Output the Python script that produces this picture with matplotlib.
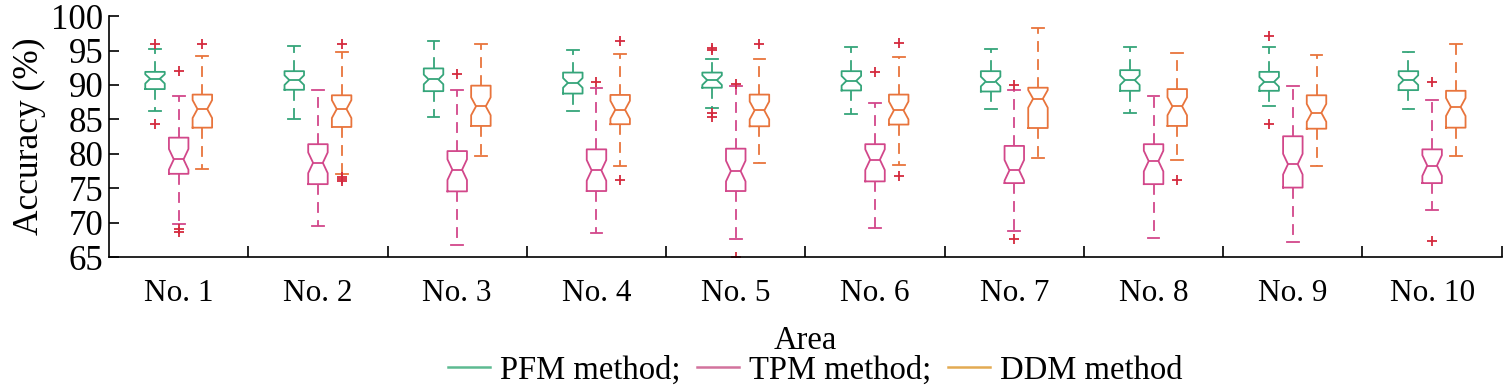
import matplotlib
matplotlib.use("Agg")
import matplotlib.pyplot as plt
from matplotlib.lines import Line2D

plt.rcParams['font.family'] = ['Liberation Serif', 'DejaVu Serif']

areas = ["No. 1", "No. 2", "No. 3", "No. 4", "No. 5", "No. 6", "No. 7", "No. 8", "No. 9", "No. 10"]
methods = ["PFM method;", "TPM method;", "DDM method"]

# each entry: (whislo, q1, med, q3, whishi, fliers)
pfm = [
    (86.2, 89.4, 90.9, 91.9, 95.15, [95.9, 84.4]),
    (85.1, 89.3, 90.7, 92.0, 95.7, []),
    (85.4, 89.1, 90.8, 92.4, 96.4, []),
    (86.2, 88.75, 90.3, 91.8, 95.05, []),
    (86.7, 89.6, 90.7, 91.8, 93.8, [95.4, 95.05, 86.0, 85.3]),
    (85.85, 89.2, 90.6, 92.0, 95.5, []),
    (86.5, 89.05, 90.5, 92.0, 95.15, []),
    (85.9, 89.15, 90.7, 92.15, 95.45, []),
    (86.9, 89.15, 90.45, 91.9, 95.45, [97.1, 84.3]),
    (86.5, 89.25, 90.7, 92.0, 94.75, []),
]
tpm = [
    (69.85, 77.1, 79.2, 82.35, 88.4, [92.0, 69.1, 68.6]),
    (69.5, 75.6, 78.7, 81.4, 89.2, []),
    (66.8, 74.55, 77.7, 80.4, 89.3, [91.6]),
    (68.55, 74.6, 77.6, 80.65, 89.5, [90.45]),
    (67.6, 74.6, 77.5, 80.75, 89.8, [90.1, 65.0]),
    (69.3, 76.0, 79.15, 81.4, 87.45, [91.95]),
    (68.8, 75.75, 77.6, 81.15, 89.2, [90.0, 67.6]),
    (67.8, 75.6, 78.95, 81.4, 88.4, []),
    (67.2, 75.1, 78.5, 82.55, 89.9, []),
    (71.8, 75.75, 78.3, 80.65, 87.8, [90.5, 67.4]),
]
ddm = [
    (77.85, 83.8, 86.5, 88.6, 94.2, [96.0]),
    (77.0, 83.9, 86.5, 88.5, 94.8, [95.9, 76.7, 76.4, 76.0]),
    (79.7, 84.05, 86.9, 89.9, 96.0, []),
    (78.2, 84.3, 86.4, 88.55, 94.5, [96.4, 76.25]),
    (78.6, 84.0, 86.3, 88.6, 93.75, [96.0]),
    (78.4, 84.25, 86.3, 88.6, 94.0, [96.1, 76.8]),
    (79.4, 83.75, 88.0, 89.6, 98.2, []),
    (79.05, 84.05, 86.9, 89.4, 94.7, [76.15]),
    (78.2, 83.65, 85.95, 88.5, 94.3, []),
    (79.7, 83.8, 86.8, 89.15, 96.0, []),
]
notch_ci = [0.7, 1.5, 1.3]

box_colors = ["#35a57a", "#d2478a", "#e8743c"]
legend_colors = ["#5dba91", "#d2739d", "#e3aa52"]
flier_color = "#d42a3e"

fig = plt.figure(figsize=(15.04, 3.92), dpi=100)
ax = fig.add_axes([0.0725, 0.344, 0.926, 0.615])

offsets = [-0.17, 0.0, 0.17]
for k, series in enumerate([pfm, tpm, ddm]):
    stats = []
    for (lo, q1, med, q3, hi, fl) in series:
        ci = notch_ci[k]
        cilo = max(med - ci, q1 + 0.35)
        cihi = min(med + ci, q3 - 0.35)
        stats.append(dict(whislo=lo, q1=q1, med=med, q3=q3, whishi=hi,
                          fliers=fl, cilo=cilo, cihi=cihi))
    pos = [i + 1 + offsets[k] for i in range(len(series))]
    c = box_colors[k]
    ax.bxp(stats, positions=pos, widths=0.14, shownotches=True,
           capwidths=0.085,
           boxprops=dict(color=c, linewidth=1.3),
           medianprops=dict(color=c, linewidth=1.3),
           whiskerprops=dict(color=c, linewidth=1.3, linestyle=(0, (6, 4))),
           capprops=dict(color=c, linewidth=1.3),
           flierprops=dict(marker='+', markeredgecolor=flier_color,
                           markersize=7, markeredgewidth=1.3, linestyle='none'))

ax.set_xlim(0.5, 10.5)
ax.set_ylim(65, 100)
ax.set_yticks(range(65, 101, 5))
ax.set_xticks([i + 0.5 for i in range(1, 11)])
ax.set_xticklabels([])
ax.set_xticks(range(1, 11), minor=True)
ax.set_xticklabels(areas, minor=True)
ax.tick_params(axis='x', which='major', direction='in', length=8, width=1.2)
ax.tick_params(axis='x', which='minor', length=0, pad=16, labelsize=22.5)
ax.tick_params(axis='y', direction='in', length=7, width=1.2, labelsize=25, pad=4)
for s in ['top', 'right']:
    ax.spines[s].set_visible(False)
for s in ['left', 'bottom']:
    ax.spines[s].set_linewidth(1.2)

ax.set_xlabel("Area", fontsize=23.5, labelpad=12)
ax.set_ylabel("Accuracy (%)", fontsize=25.5, labelpad=4)

handles = [Line2D([0], [0], color=legend_colors[i], linewidth=1.8) for i in range(3)]
fig.legend(handles, methods, loc='center', bbox_to_anchor=(0.542, 0.055),
           ncol=3, frameon=False, fontsize=23.5, handlelength=1.3,
           handletextpad=0.3, columnspacing=0.5, borderaxespad=0)

fig.savefig("out.png", dpi=100)
